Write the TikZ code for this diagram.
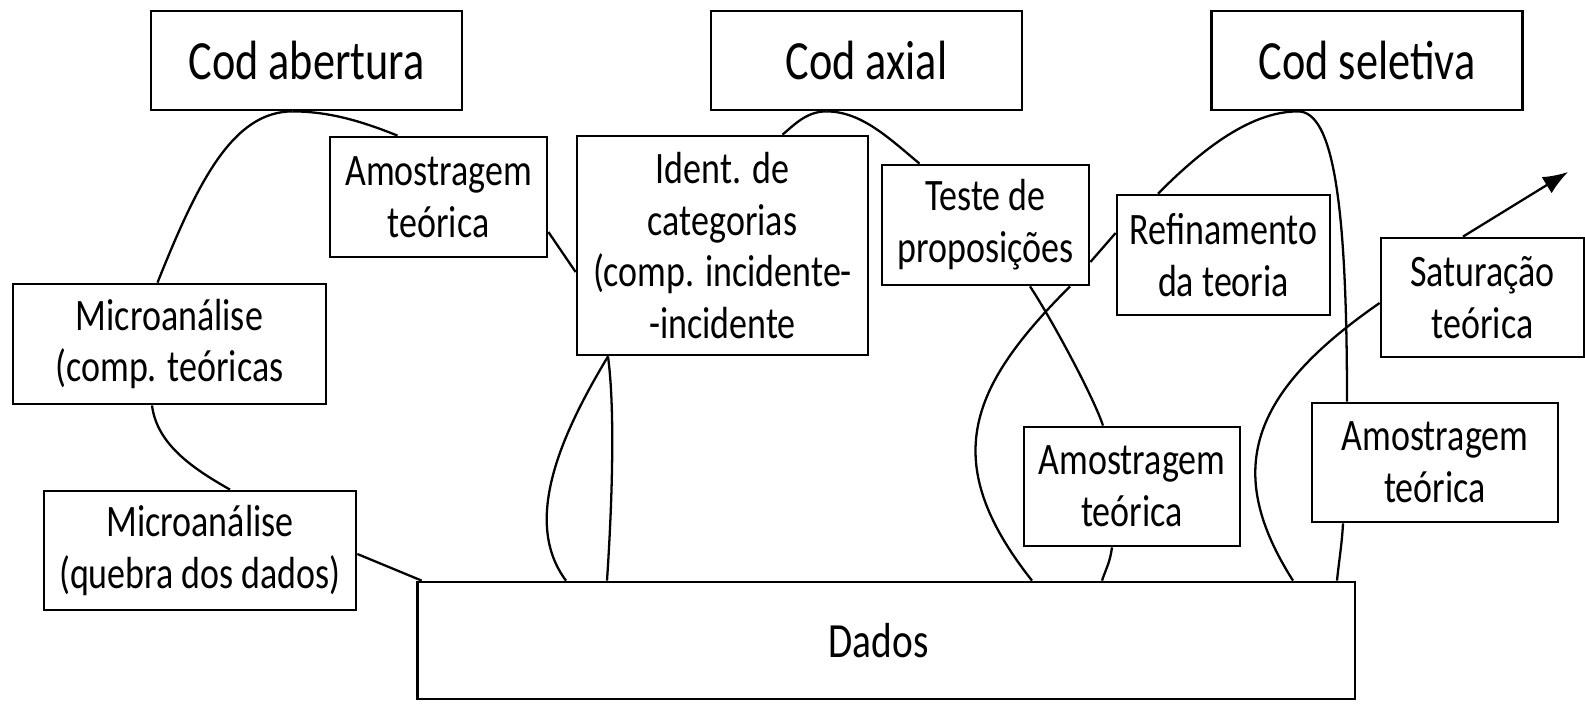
\documentclass[tikz,border=0pt]{standalone}
\usepackage{fontspec}
\setmainfont{Carlito}[FakeStretch=0.8]
\usetikzlibrary{calc,arrows.meta}

\begin{document}
\begin{tikzpicture}[x=0.02cm,y=-0.02cm,%1 unit = 1 px, y goes down
  box/.style={draw, line width=1.6pt, inner sep=0pt, align=center, minimum height=2.4cm, font=\fontsize{25.6}{29.5}\selectfont},
  codbox/.style={box, minimum width=6.22cm, minimum height=1.98cm, font=\fontsize{31.5}{36}\selectfont},
  link/.style={line width=1.3pt}]
\useasboundingbox (0,0) rectangle (1585,704);
% the three codings
\node [codbox] (codA) at (306.5,60.5) {Cod abertura};
\node [codbox] (codX) at (866.5,60.5) {Cod axial};
\node [codbox] (codS) at (1367,60.5) {Cod seletiva};
% steps
\node [box, minimum width=4.34cm] (amoA) at (438.5,197) {Amostragem\\teórica};
\node [box, minimum width=5.82cm, minimum height=4.38cm] (ident) at (722.5,245.5) {Ident. de\\categorias\\(comp. incidente-\\-incidente};
\node [box, minimum width=4.14cm] (teste) at (985.5,225) {Teste de\\proposições};
\node [box, minimum width=4.26cm] (refin) at (1223.5,255) {Refinamento\\da teoria};
\node [box, minimum width=4.06cm, minimum height=2.38cm] (satur) at (1482.5,297.5) {Saturação\\teórica};
\node [box, minimum width=6.26cm] (microC) at (169.5,344) {Microanálise\\(comp. teóricas};
\node [box, minimum width=6.24cm, minimum height=2.38cm] (microQ) at (200,550.5) {Microanálise\\(quebra dos dados)};
\node [box, minimum width=4.32cm, minimum height=2.38cm] (amoB) at (1132,486.5) {Amostragem\\teórica};
\node [box, minimum width=4.92cm, minimum height=2.38cm] (amoC) at (1435,462.5) {Amostragem\\teórica};
\node [box, minimum width=18.76cm, minimum height=2.34cm, font=\fontsize{28}{32}\selectfont] (dados) at (886,640.5) {\raisebox{-0.25cm}{Dados}\hspace{0.3cm}};
\coordinate (fim) at (1568,172);
% open coding
\draw [link] ($(codA.south)+(-14,0)$) .. controls +(-60,0) and +(40,-100) .. ($(microC.north)+(-12,0)$);
\draw [link] ($(codA.south)+(-14,0)$) .. controls +(40,0) and +(-30,-12) .. ($(amoA.north)+(-41,0)$);
\draw [link] ($(amoA.east)+(0,35)$) -- ($(ident.west)+(0,26.5)$);
\draw [link] ($(microC.south)+(-17.5,0)$) .. controls +(5,40) and +(-35,-20) .. ($(microQ.north)+(30,0)$);
\draw [link] ($(microQ.east)+(0,3.5)$) -- ($(dados.north west)+(6,0)$);
\draw [link] ($(ident.south)+(-114.5,0)$) .. controls +(-45,75) and +(-45,-60) .. ($(dados.north)+(-320,0)$);
\draw [link] ($(ident.south)+(-114.5,0)$) .. controls +(8,60) and +(4,-60) .. ($(dados.north)+(-279,0)$);
% axial coding
\draw [link] ($(codX.south)+(-40,0)$) .. controls +(-20,0) and +(12,-10) .. ($(ident.north)+(60,0)$);
\draw [link] ($(codX.south)+(-40,0)$) .. controls +(35,0) and +(-30,-25) .. ($(teste.north)+(-66,0)$);
\draw [link] ($(teste.south)+(44.5,0)$) .. controls +(20,30) and +(-10,-30) .. ($(amoB.north)+(-29,0)$);
\draw [link] ($(refin.west)+(0,-22)$) -- ($(teste.east)+(0,37)$);
\draw [link] ($(teste.south)+(84.5,0)$) .. controls +(-100,100) and +(-95,-120) .. ($(dados.north)+(146,0)$);
\draw [link] ($(amoB.south)+(-20,0)$) .. controls +(-2,15) and +(4,-12) .. ($(dados.north)+(216,0)$);
% selective coding
\draw [link] ($(codS.south)+(-69,0)$) .. controls +(-50,0) and +(40,-40) .. ($(refin.north)+(-65.5,0)$);
\draw [link] ($(codS.south)+(-69,0)$) .. controls +(35,0) and +(0,-200) .. ($(amoC.north)+(-88,0)$);
\draw [link] ($(satur.west)+(0,5.5)$) .. controls +(-130,90) and +(-70,-110) .. ($(dados.north)+(407,0)$);
\draw [link] ($(amoC.south)+(-92,0)$) .. controls +(-1,20) and +(2,-20) .. ($(dados.north)+(451,0)$);
\draw [link, -{Latex[length=0.5cm,width=0.38cm]}] ($(satur.north)+(-19.5,0)$) -- (fim);
\end{tikzpicture}
\end{document}
